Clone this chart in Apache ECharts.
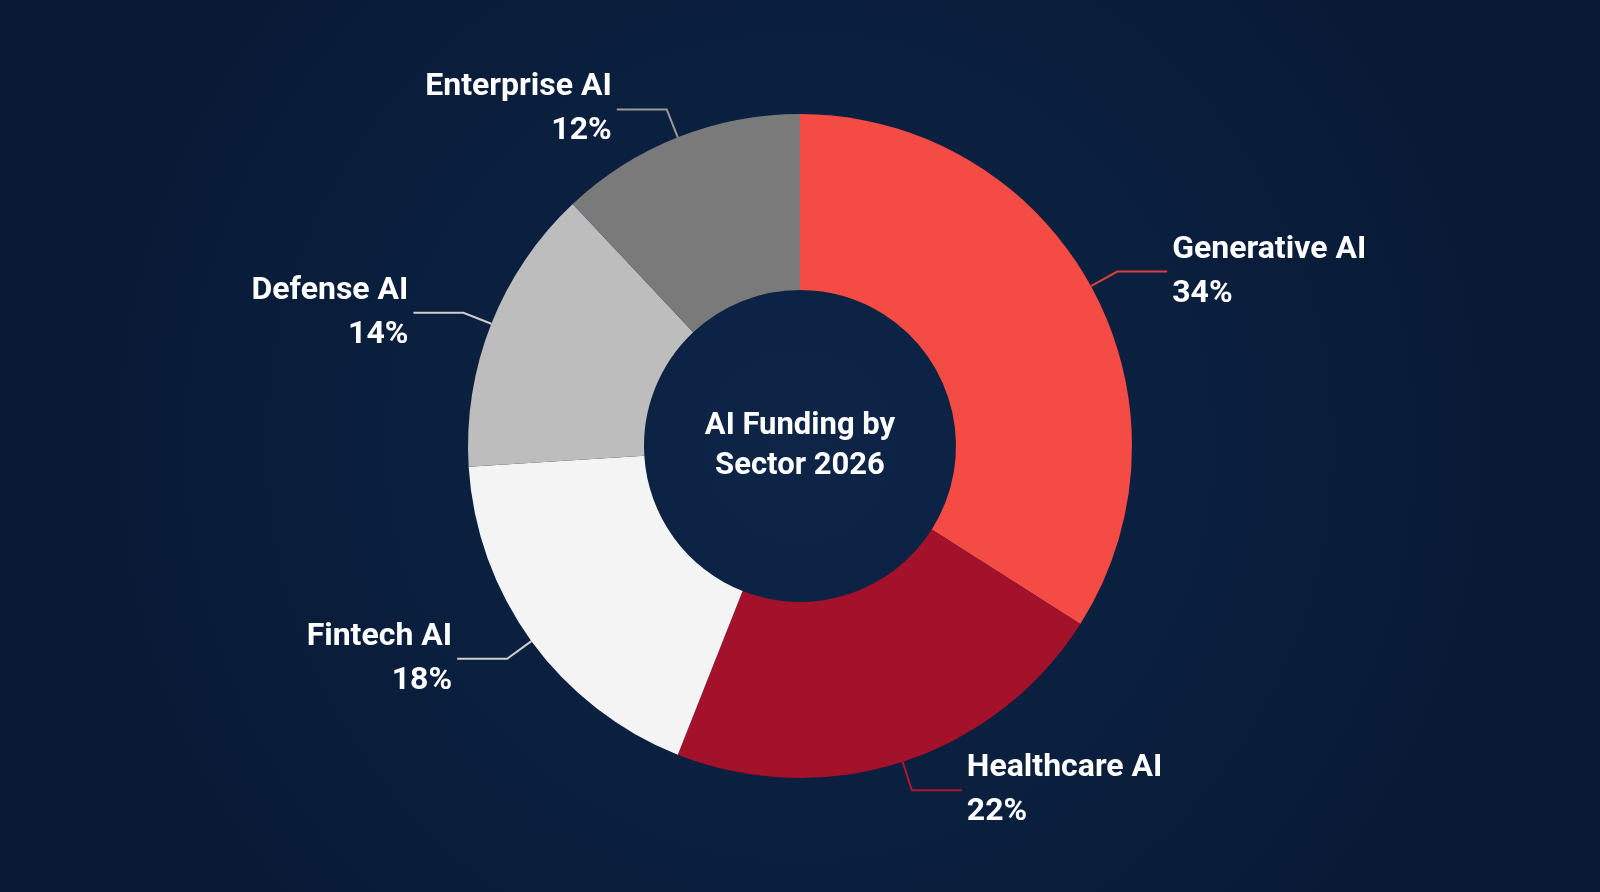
<!DOCTYPE html>
<html><head><meta charset="utf-8">
<script src="https://cdn.jsdelivr.net/npm/echarts@6/dist/echarts.min.js"></script>
<style>html,body{margin:0;padding:0;background:#0b2142;}#c{width:1600px;height:892px;}</style>
</head><body><div id="c"></div>
<script>
const categories = ["Generative AI","Healthcare AI","Fintech AI","Defense AI","Enterprise AI"];
const values = [34,22,18,14,12];
const colors = ["#f44b45","#a3122a","#f4f4f4","#bdbdbd","#7a7a7a"];
const lineColors = ["#d8413c","#b0182e","#cfcfcf","#cfcfcf","#9a9a9a"];
const chart = echarts.init(document.getElementById('c'));
chart.setOption({
  backgroundColor: {type:'radial',x:0.5,y:0.5,r:0.8,colorStops:[{offset:0,color:'#0e2548'},{offset:1,color:'#081a36'}]},
  title: {text:'AI Funding by\nSector 2026', left:'center', top:'middle',
    textStyle:{color:'#fff',fontFamily:'Roboto',fontWeight:'bold',fontSize:31,lineHeight:40}},
  series:[{
    type:'pie', center:[800,446], radius:[156,332], startAngle:90, clockwise:true,
    data: categories.map((n,i)=>({name:n,value:values[i],itemStyle:{color:colors[i]},
      labelLine:{lineStyle:{color:lineColors[i],width:2}}})),
    label:{formatter:'{b}\n{c}%', color:'#fff', fontFamily:'Roboto', fontWeight:'bold', fontSize:32, lineHeight:44},
    labelLine:{length:30,length2:50},
    emphasis:{disabled:true}
  }]
});
</script></body></html>
